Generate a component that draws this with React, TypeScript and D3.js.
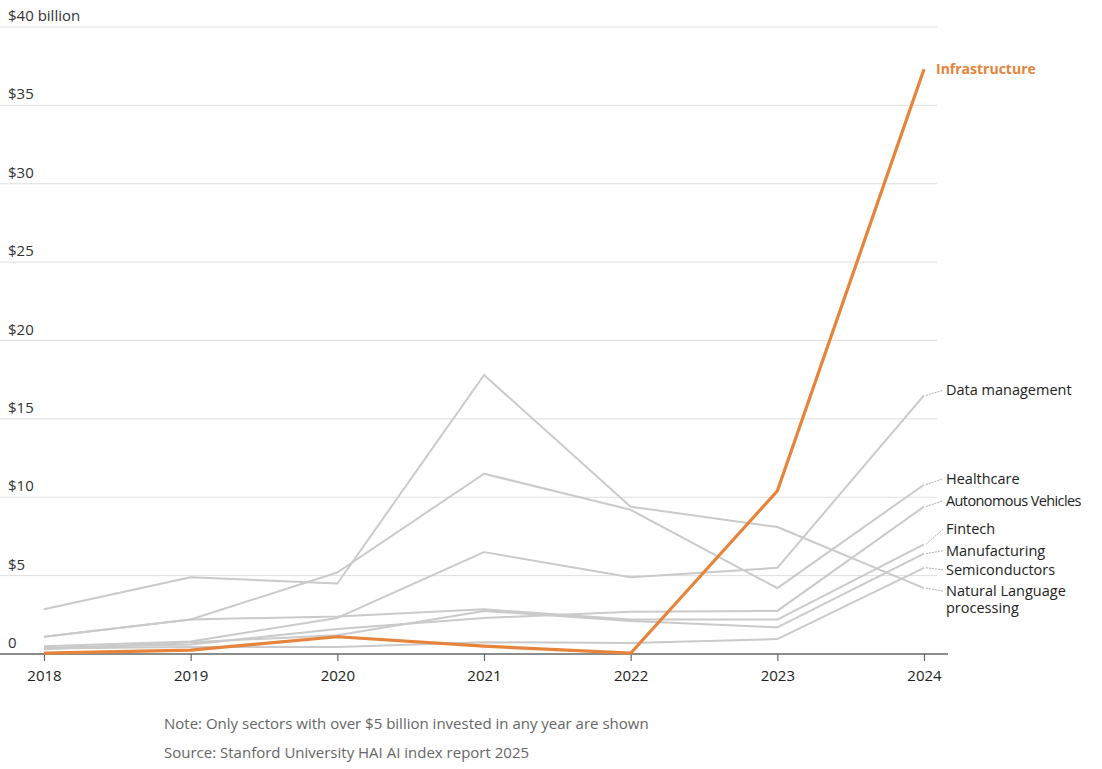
import React, { useEffect, useRef } from 'react';
import * as d3 from 'd3';

const years = [2018, 2019, 2020, 2021, 2022, 2023, 2024];
const yTicks = [0, 5, 10, 15, 20, 25, 30, 35, 40];

// $ billion
const infrastructure = [0.05, 0.25, 1.1, 0.5, 0.05, 10.4, 37.3];
const nlp = [2.85, 4.9, 4.5, 17.8, 9.4, 8.1, 4.2];
const healthcare = [1.1, 2.2, 5.2, 11.5, 9.2, 4.2, 10.8];
const dataManagement = [0.5, 0.8, 2.3, 6.5, 4.9, 5.5, 16.5];
const autonomous = [0.4, 0.6, 1.6, 2.3, 2.7, 2.75, 9.4];
const fintech = [1.1, 2.2, 2.4, 2.85, 2.2, 2.2, 7.0];
const manufacturing = [0.3, 0.75, 1.2, 2.75, 2.1, 1.7, 6.4];
const semiconductors = [0.35, 0.45, 0.45, 0.75, 0.7, 0.95, 5.5];

const graySeries = [
  { name: ['Data management'], values: dataManagement, labelShift: -5, tight: false },
  { name: ['Healthcare'], values: healthcare, labelShift: -6, tight: false },
  { name: ['Autonomous Vehicles'], values: autonomous, labelShift: -6, tight: true },
  { name: ['Fintech'], values: fintech, labelShift: -15, tight: false },
  { name: ['Manufacturing'], values: manufacturing, labelShift: -3, tight: false },
  { name: ['Semiconductors'], values: semiconductors, labelShift: 2, tight: false },
  { name: ['Natural Language', 'processing'], values: nlp, labelShift: 3, tight: false },
];

const App: React.FC = () => {
  const svgRef = useRef<SVGSVGElement>(null);

  useEffect(() => {
    const width = 1102;
    const height = 769;
    const font = '"Open Sans", Lato, sans-serif';
    const fs = '15px';
    const labelFs = '14.5px';

    const svg = d3.select(svgRef.current);
    svg.selectAll('*').remove();
    svg.attr('width', width).attr('height', height).style('background', '#fff');

    const x = d3.scaleLinear().domain([2018, 2024]).range([44, 924]);
    const y = d3.scaleLinear().domain([0, 40]).range([654, 27]);

    // gridlines + y labels
    const grid = svg.append('g');
    grid.selectAll('line')
      .data(yTicks.filter(d => d > 0))
      .enter()
      .append('line')
      .attr('x1', 0)
      .attr('x2', 937)
      .attr('y1', d => y(d))
      .attr('y2', d => y(d))
      .attr('stroke', '#dedede')
      .attr('stroke-width', 1);

    grid.selectAll('text')
      .data(yTicks)
      .enter()
      .append('text')
      .attr('x', 8)
      .attr('y', d => y(d) - 6)
      .style('font-family', font)
      .style('font-size', fs)
      .style('fill', '#333')
      .text(d => (d === 0 ? '0' : d === 40 ? '$40 billion' : `$${d}`));

    // x axis
    const xAxis = svg.append('g').attr('transform', `translate(0,${y(0)})`);
    xAxis.call(
      d3.axisBottom(x)
        .tickValues(years)
        .tickFormat(d => String(d))
        .tickSize(7)
        .tickPadding(9)
    );
    xAxis.select('.domain').remove();
    xAxis.append('line')
      .attr('x1', 0)
      .attr('x2', 948)
      .attr('stroke', '#666')
      .attr('stroke-width', 1.5);
    xAxis.selectAll('.tick line').attr('stroke', '#666').attr('stroke-width', 1.2);
    xAxis.selectAll('.tick text')
      .style('font-family', font)
      .style('font-size', fs)
      .style('fill', '#222');

    const line = d3.line<number>()
      .x((_, i) => x(years[i]))
      .y(d => y(d));

    // gray sectors
    svg.append('g')
      .selectAll('path')
      .data(graySeries)
      .enter()
      .append('path')
      .attr('d', d => line(d.values))
      .attr('fill', 'none')
      .attr('stroke', '#cacaca')
      .attr('stroke-width', 2)
      .attr('stroke-linejoin', 'round');

    // labels with leaders
    const labels = svg.append('g');
    graySeries.forEach(s => {
      const endY = y(s.values[s.values.length - 1]);
      const ly = endY + s.labelShift;
      labels.append('line')
        .attr('x1', x(2024) + 2)
        .attr('y1', endY)
        .attr('x2', 943)
        .attr('y2', ly)
        .attr('stroke', '#999')
        .attr('stroke-width', 0.8)
        .attr('stroke-dasharray', '2,1');
      const txt = labels.append('text')
        .attr('x', 946)
        .attr('y', ly + 5)
        .style('font-family', font)
        .style('font-size', labelFs)
        .style('letter-spacing', s.tight ? '-0.6px' : '0px')
        .style('fill', '#222');
      s.name.forEach((t, i) => {
        txt.append('tspan')
          .attr('x', 946)
          .attr('dy', i === 0 ? 0 : 17)
          .text(t);
      });
    });

    // highlighted infrastructure
    svg.append('path')
      .attr('d', line(infrastructure))
      .attr('fill', 'none')
      .attr('stroke', '#e5843a')
      .attr('stroke-width', 3.2)
      .attr('stroke-linejoin', 'round');

    svg.append('text')
      .attr('x', 936)
      .attr('y', y(infrastructure[infrastructure.length - 1]) + 5)
      .style('font-family', font)
      .style('font-size', '14px')
      .style('font-weight', 'bold')
      .style('fill', '#e5843a')
      .text('Infrastructure');

    // notes
    svg.append('text')
      .attr('x', 164)
      .attr('y', 729)
      .style('font-family', font)
      .style('font-size', fs)
      .style('fill', '#666')
      .text('Note: Only sectors with over $5 billion invested in any year are shown');
    svg.append('text')
      .attr('x', 164)
      .attr('y', 758)
      .style('font-family', font)
      .style('font-size', fs)
      .style('fill', '#666')
      .text('Source: Stanford University HAI AI index report 2025');
  }, []);

  return (
    <svg
      ref={svgRef}
      style={{ position: 'absolute', left: 0, top: 0, display: 'block' }}
    />
  );
};

export default App;
